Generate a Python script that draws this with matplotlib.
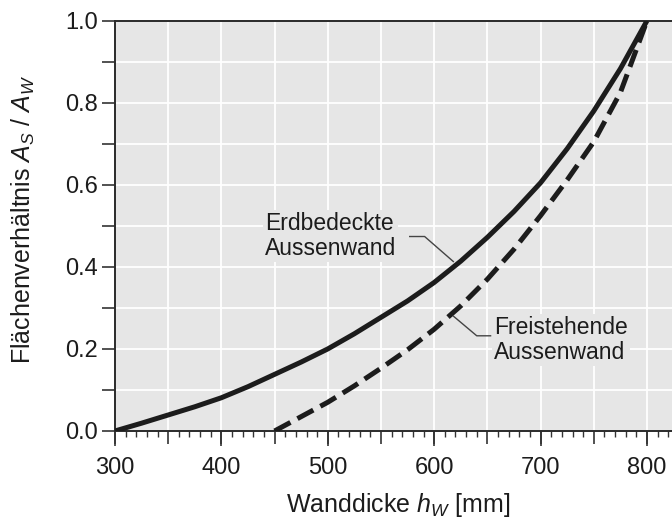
import numpy as np
import matplotlib.pyplot as plt
from matplotlib.ticker import MultipleLocator, FuncFormatter, FixedLocator, NullFormatter

plt.rcParams["font.family"] = ["Liberation Sans", "DejaVu Sans"]
plt.rcParams["mathtext.fontset"] = "custom"
plt.rcParams["mathtext.rm"] = "Liberation Sans"
plt.rcParams["mathtext.it"] = "Liberation Sans:italic"

# wall thickness [mm] and area ratio
EARTH_X = [300, 325, 350, 375, 400, 425, 450, 475, 500, 525, 550, 575, 600, 625, 650, 675, 700, 725, 750, 775, 800]
EARTH_Y = [0.0, 0.019, 0.039, 0.059, 0.081, 0.108, 0.138, 0.168, 0.200, 0.237, 0.277, 0.317, 0.362, 0.414, 0.472, 0.535, 0.605, 0.688, 0.780, 0.883, 1.0]

FREE_X = [450, 475, 500, 525, 550, 575, 600, 625, 650, 675, 700, 725, 750, 775, 800]
FREE_Y = [0.0, 0.035, 0.070, 0.110, 0.153, 0.198, 0.248, 0.305, 0.370, 0.443, 0.525, 0.612, 0.705, 0.825, 1.0]

X_LABELED = [300, 400, 500, 600, 700, 800]

BG = "#e6e6e6"
INK = "#1c1c1c"
TICK = "#333333"

fig = plt.figure(figsize=(6.72, 5.19), dpi=100)
ax = fig.add_axes([0.1711, 0.1696, 0.8289, 0.7905])
ax.set_facecolor(BG)

ax.plot(EARTH_X, EARTH_Y, color=INK, linewidth=3.6, solid_capstyle="butt",
        solid_joinstyle="round", zorder=3)
ax.plot(FREE_X, FREE_Y, color=INK, linewidth=3.6, linestyle=(0, (3.6, 1.6)),
        dash_capstyle="butt", dash_joinstyle="round", zorder=3)

ax.set_xlim(300, 823.5)
ax.set_ylim(0, 1.0)

ax.xaxis.set_major_locator(MultipleLocator(50))
ax.xaxis.set_minor_locator(MultipleLocator(10))
ax.xaxis.set_major_formatter(FuncFormatter(lambda v, p: f"{v:.0f}" if v % 100 == 0 else ""))
ax.yaxis.set_major_locator(MultipleLocator(0.2))
ax.yaxis.set_minor_locator(MultipleLocator(0.1))
ax.yaxis.set_major_formatter(FuncFormatter(lambda v, p: f"{v:.1f}"))

ax.grid(True, which="major", axis="x", color="white", linewidth=1.3, zorder=1)
ax.grid(True, which="both", axis="y", color="white", linewidth=1.3, zorder=1)
ax.set_axisbelow(True)

ax.tick_params(axis="x", which="major", direction="out", length=9.1, width=1.2, color=TICK,
               labelsize=17, pad=9.8, labelcolor=INK)
ax.tick_params(axis="x", which="minor", direction="out", length=4.3, width=1.0, color=TICK)
ax.tick_params(axis="y", which="both", direction="out", length=9.4, width=1.2, color=TICK,
               labelsize=17, pad=3, labelcolor=INK)

# longer ticks at the labelled hundreds
sec = ax.secondary_xaxis("bottom")
sec.xaxis.set_major_locator(FixedLocator(X_LABELED))
sec.xaxis.set_major_formatter(NullFormatter())
sec.tick_params(axis="x", which="major", direction="out", length=11, width=1.2, color=TICK)
sec.xaxis.set_minor_locator(FixedLocator([]))
sec.spines["bottom"].set_visible(False)

for side in ["left", "bottom", "top"]:
    ax.spines[side].set_color("#2a2a2a")
    ax.spines[side].set_linewidth(1.4)
ax.spines["right"].set_visible(False)

ax.set_xlabel("Wanddicke $h_W$ [mm]", fontsize=18, color=INK)
ax.set_ylabel("Flächenverhältnis $A_S$ / $A_W$", fontsize=18, color=INK)
ax.xaxis.set_label_coords(0.508, -0.147)
ax.yaxis.set_label_coords(-0.140, 0.516)

box = dict(facecolor=BG, edgecolor="none", pad=1.5)
ax.text(441, 0.476, "Erdbedeckte\nAussenwand", fontsize=16.5, color=INK, ha="left", va="center",
        linespacing=1.1, bbox=box, zorder=2)
ax.text(656, 0.222, "Freistehende\nAussenwand", fontsize=16.5, color=INK, ha="left", va="center",
        linespacing=1.1, bbox=box, zorder=2)

ax.plot([577, 591, 618], [0.474, 0.474, 0.413], color="#444444", linewidth=1.0, zorder=4)
ax.plot([618, 640, 653], [0.28, 0.232, 0.232], color="#444444", linewidth=1.0, zorder=4)

fig.savefig("out.png", dpi=100)
